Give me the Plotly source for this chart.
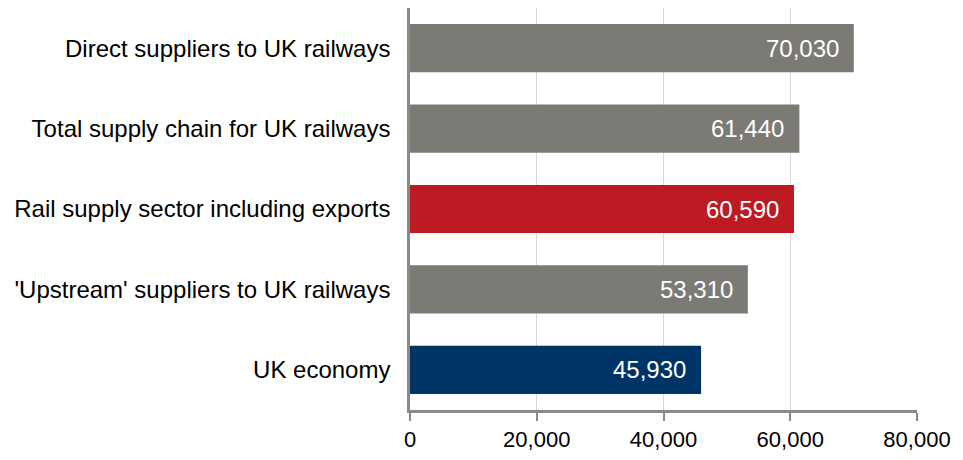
import plotly.graph_objects as go

categories = [
    "Direct suppliers to UK railways",
    "Total supply chain for UK railways",
    "Rail supply sector including exports",
    "'Upstream' suppliers to UK railways",
    "UK economy",
]
values = [70030, 61440, 60590, 53310, 45930]
bar_colors = ["#7b7a75", "#7b7a75", "#bd1a24", "#7b7a75", "#003366"]
x_ticks = [0, 20000, 40000, 60000, 80000]

FONT = "Liberation Sans, Arial, sans-serif"
AXIS_GREY = "#8a8a8a"

fig = go.Figure(
    go.Bar(
        x=values,
        y=categories,
        orientation="h",
        marker=dict(color=bar_colors, line=dict(width=0)),
        width=0.6,
        hoverinfo="skip",
    )
)

# value labels inside the right end of each bar
for cat, val in zip(categories, values):
    fig.add_annotation(
        x=val, y=cat, text=f"{val:,}", showarrow=False,
        xanchor="right", yanchor="middle", xshift=-13,
        font=dict(family=FONT, size=24, color="white"),
    )

fig.update_layout(
    width=963, height=460,
    margin=dict(l=410, r=46, t=8, b=45),
    paper_bgcolor="white", plot_bgcolor="white",
    showlegend=False,
    font=dict(family=FONT, size=22, color="#000000"),
    bargap=0.4,
)
fig.update_xaxes(
    range=[0, 80000], tickvals=x_ticks, tickformat=",d",
    showgrid=True, gridcolor="#d9d9d9", gridwidth=1,
    showline=True, linecolor=AXIS_GREY, linewidth=2.5,
    ticks="outside", ticklen=8, tickwidth=2, tickcolor=AXIS_GREY,
    zeroline=False,
    tickfont=dict(family=FONT, size=22, color="#000000"),
)
fig.update_yaxes(
    autorange="reversed",
    showline=True, linecolor=AXIS_GREY, linewidth=2.5,
    ticks="", showgrid=False, zeroline=False,
    ticklabelstandoff=12,
    tickfont=dict(family=FONT, size=24, color="#000000"),
)

fig.write_html("out.html")
